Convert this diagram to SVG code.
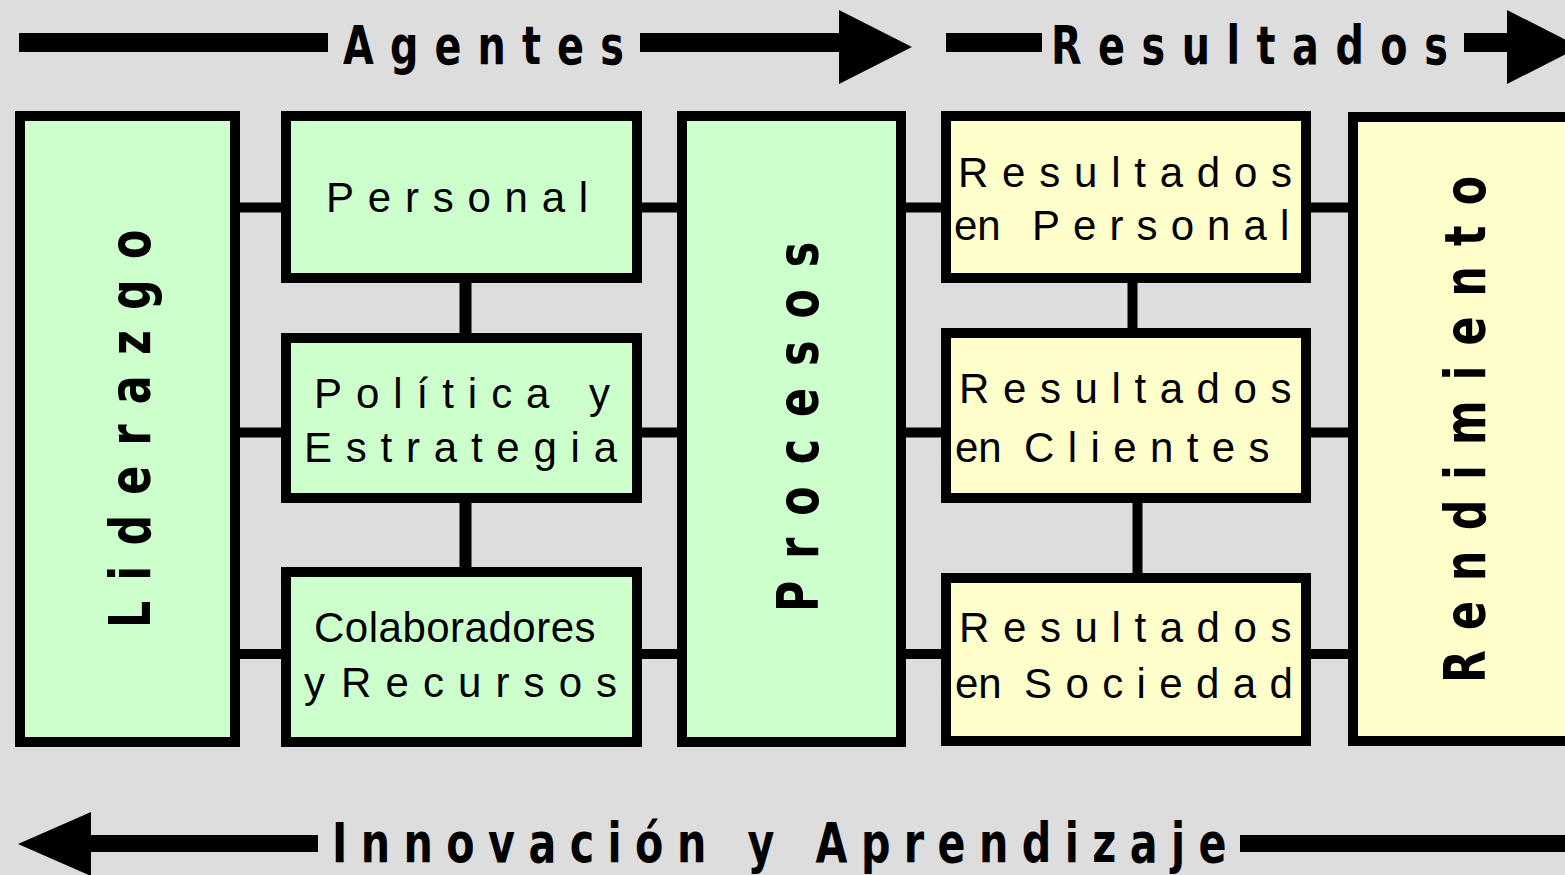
<svg xmlns="http://www.w3.org/2000/svg" width="1565" height="875" viewBox="0 0 1565 875">
<style>
.bg{fill:#DDDDDD}
.g{fill:#CCFFCC;stroke:#000;stroke-width:10}
.y{fill:#FFFFCC;stroke:#000;stroke-width:10}
.link{stroke:#000;stroke-width:10;fill:none}
.vlink{stroke:#000;stroke-width:12;fill:none}
.band{fill:#000}
.lbl{font-family:"Liberation Sans",Arial,sans-serif;font-size:42px;fill:#000}
.big{font-family:"DejaVu Sans","Liberation Sans",sans-serif;font-weight:bold;fill:#000}
</style>
<rect class="bg" x="0" y="0" width="1565" height="875"/>

<g id="flow-arrows">
  <rect class="band" x="19" y="33" width="309" height="19"/>
  <rect class="band" x="640" y="33" width="205" height="19"/>
  <polygon class="band" points="839,10 912,47 839,84"/>
  <rect class="band" x="946" y="33" width="96" height="19"/>
  <rect class="band" x="1464" y="33" width="50" height="19"/>
  <polygon class="band" points="1507,10 1580,47 1507,84"/>
  <polygon class="band" points="91,812 18,844 91,876"/>
  <rect class="band" x="88" y="835" width="230" height="17"/>
  <rect class="band" x="1240" y="835" width="330" height="17"/>
  <text class="big" font-size="53" letter-spacing="21.5" transform="translate(343,64) scale(0.75,1)">Agentes</text>
  <text class="big" font-size="53" letter-spacing="22" transform="translate(1051,64) scale(0.75,1)">Resultados</text>
  <text class="big" font-size="55" letter-spacing="17.9" transform="translate(332,862) scale(0.75,1)">Innovación y Aprendizaje</text>
</g>

<g id="connectors">
  <line class="link" x1="240" y1="207.5" x2="281" y2="207.5"/>
  <line class="link" x1="240" y1="432.5" x2="281" y2="432.5"/>
  <line class="link" x1="240" y1="654" x2="281" y2="654"/>
  <line class="link" x1="642" y1="207.5" x2="677" y2="207.5"/>
  <line class="link" x1="642" y1="432.5" x2="677" y2="432.5"/>
  <line class="link" x1="642" y1="654" x2="677" y2="654"/>
  <line class="link" x1="906" y1="207.5" x2="941" y2="207.5"/>
  <line class="link" x1="906" y1="432.5" x2="941" y2="432.5"/>
  <line class="link" x1="906" y1="654" x2="941" y2="654"/>
  <line class="link" x1="1311" y1="207.5" x2="1348" y2="207.5"/>
  <line class="link" x1="1311" y1="432.5" x2="1348" y2="432.5"/>
  <line class="link" x1="1311" y1="654" x2="1348" y2="654"/>
  <line class="vlink" x1="465.5" y1="283" x2="465.5" y2="333"/>
  <line class="vlink" x1="465.5" y1="503" x2="465.5" y2="567"/>
  <line class="link" x1="1132.5" y1="283" x2="1132.5" y2="328"/>
  <line class="link" x1="1137.5" y1="503" x2="1137.5" y2="573"/>
</g>

<g id="liderazgo">
  <rect class="g" x="20" y="116" width="215" height="626"/>
  <text class="big" font-size="57" letter-spacing="27" transform="translate(150,628) rotate(-90) scale(0.75,1)">Liderazgo</text>
</g>

<g id="personal">
  <rect class="g" x="286" y="116" width="351" height="162"/>
  <text class="lbl" x="326" y="212" letter-spacing="13.76">Personal</text>
</g>

<g id="politica-estrategia">
  <rect class="g" x="286" y="338" width="351" height="160"/>
  <text class="lbl" x="314" y="408" letter-spacing="13.96">Política y</text>
  <text class="lbl" x="304" y="462" letter-spacing="13.77">Estrategia</text>
</g>

<g id="colaboradores-recursos">
  <rect class="g" x="286" y="572" width="351" height="170"/>
  <text class="lbl" x="314" y="642" letter-spacing="0.5">Colaboradores</text>
  <text class="lbl" y="697"><tspan x="304">y</tspan><tspan x="341" letter-spacing="14.1">Recursos</tspan></text>
</g>

<g id="procesos">
  <rect class="g" x="682" y="116" width="219" height="626"/>
  <text class="big" font-size="57" letter-spacing="29.3" transform="translate(818,612) rotate(-90) scale(0.75,1)">Procesos</text>
</g>

<g id="resultados-personal">
  <rect class="y" x="946" y="116" width="360" height="162"/>
  <text class="lbl" x="958" y="187" letter-spacing="13.77">Resultados</text>
  <text class="lbl" y="240"><tspan x="954">en</tspan><tspan x="1032" letter-spacing="13.07">Personal</tspan></text>
</g>

<g id="resultados-clientes">
  <rect class="y" x="946" y="333" width="360" height="165"/>
  <text class="lbl" x="959" y="403" letter-spacing="13.6">Resultados</text>
  <text class="lbl" y="462"><tspan x="955">en</tspan><tspan x="1024" letter-spacing="13.4">Clientes</tspan></text>
</g>

<g id="resultados-sociedad">
  <rect class="y" x="946" y="578" width="360" height="163"/>
  <text class="lbl" x="959" y="642" letter-spacing="13.6">Resultados</text>
  <text class="lbl" y="698"><tspan x="955">en</tspan><tspan x="1024" letter-spacing="13.4">Sociedad</tspan></text>
</g>

<g id="rendimiento">
  <rect class="y" x="1353" y="117" width="240" height="624"/>
  <text class="big" font-size="57" letter-spacing="26.8" transform="translate(1485,683) rotate(-90) scale(0.75,1)">Rendimiento</text>
</g>
</svg>
